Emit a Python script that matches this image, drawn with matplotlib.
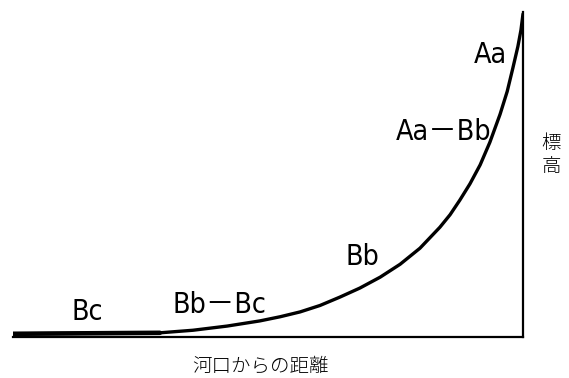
import matplotlib
matplotlib.use('Agg')
import matplotlib.pyplot as plt

# River long profile (distance and height in 0-100 units)
distance = [0, 28.8, 35.3, 42.0, 48.4, 52.4, 56.3, 60.2, 64.1, 68.0, 72.0, 75.9, 79.8,
            83.7, 85.7, 87.6, 89.6, 91.6, 93.5, 95.5, 96.9, 98.0, 99.0, 99.6, 100]
elevation = [0, 0.3, 1.1, 2.4, 4.0, 5.3, 6.8, 8.8, 11.4, 14.2, 17.6, 21.6, 26.6,
             33.1, 37.0, 41.5, 46.6, 52.5, 59.5, 68.2, 75.3, 82.5, 89.3, 94.4, 99.4]

# Stream type labels along the curve
labels = ['Bc', 'Bb－Bc', 'Bb', 'Aa－Bb', 'Aa']
label_x = [14.5, 40.4, 68.6, 84.5, 93.7]
label_y = [4.3, 6.5, 21.4, 60.2, 84.2]

xlabel = '河口からの距離'
ylabel = '標高'

fig = plt.figure(figsize=(5.69, 3.78), dpi=100)
ax = fig.add_axes([13 / 569, 1 - 337 / 378, 510 / 569, 325 / 378])

ax.plot(distance, elevation, color='black', lw=2.4, solid_capstyle='round',
        solid_joinstyle='round')
# the flat lower part is drawn a bit heavier in the original
ax.plot(distance[:2], elevation[:2], color='black', lw=3.3, solid_capstyle='round')

ax.set_xlim(0, 100)
ax.set_ylim(-1, 100)
for side in ['left', 'top']:
    ax.spines[side].set_visible(False)
for side in ['bottom', 'right']:
    ax.spines[side].set_linewidth(1.6)
ax.set_xticks([])
ax.set_yticks([])

label_font = ['DejaVu Sans', 'Noto Sans CJK JP']
for name, x, y in zip(labels, label_x, label_y):
    ax.text(x, y, name, ha='center', va='baseline', fontsize=20.5,
            family=label_font, fontstretch='condensed')

jp_font = ['Noto Sans CJK JP', 'DejaVu Sans']
fig.text(260 / 569, 1 - 366 / 378, xlabel, ha='center', va='center',
         fontsize=14, family=jp_font, fontweight='light')
fig.text(551 / 569, 1 - 155 / 378, '\n'.join(ylabel), ha='center', va='center',
         fontsize=14, family=jp_font, fontweight='light', linespacing=1.1)

fig.savefig('out.png', dpi=100, facecolor='white')
